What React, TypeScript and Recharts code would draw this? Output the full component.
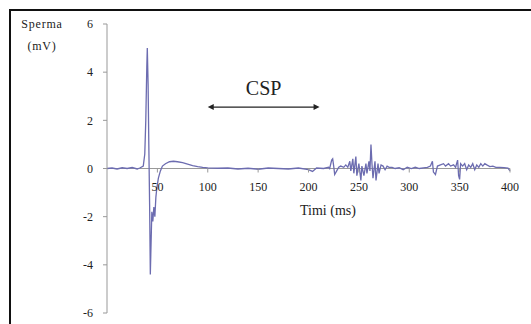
import { LineChart, Line, XAxis, YAxis, ReferenceLine } from "recharts";

// time (ms) and EMG amplitude (mV)
const TIME_MS = [
  0, 5, 10, 15, 20, 25, 30, 33, 36, 37.5, 38.5, 39.5, 40, 40.8, 41.5, 42.3, 43,
  43.8, 44.5, 45.5, 46.5, 47.5, 48.5, 49.5, 51, 53, 55, 58, 62, 66, 70, 75, 80,
  85, 90, 95, 100, 110, 120, 130, 140, 150, 160, 170, 180, 190, 200, 204, 208,
  215, 220, 221, 223, 224, 225, 226, 228, 230, 232, 235, 237, 239, 241, 242,
  244, 245, 247, 248, 250, 252, 253, 255, 257, 258, 260, 261, 262, 263, 264,
  266, 267, 269, 270, 272, 274, 276, 278, 280, 283, 286, 290, 294, 298, 302,
  306, 310, 314, 318, 321, 323, 324, 326, 328, 331, 334, 336, 339, 341, 344,
  346, 348, 349, 350, 351, 353, 355, 357, 359, 361, 363, 365, 367, 369, 371,
  373, 375, 377, 380, 383, 386, 390, 394, 398, 400,
];
const VOLTS = [
  0, 0.02, -0.02, 0.03, 0, 0.04, -0.02, 0.03, 0.1, 0.6, 2.0, 4.2, 5.0, 3.5, 1.0,
  -1.5, -4.4, -3.0, -1.8, -2.2, -1.6, -2.0, -1.2, -0.8, -0.4, -0.1, 0.1, 0.2,
  0.28, 0.3, 0.28, 0.24, 0.18, 0.12, 0.08, 0.05, 0.03, 0.01, 0.02, -0.02, 0.01,
  -0.03, 0.02, 0, -0.02, 0.02, -0.05, -0.12, 0.02, 0, 0.05, 0, 0.35, 0.4, 0.1,
  -0.25, -0.1, 0.05, 0.1, 0.05, 0.15, 0.05, 0.3, -0.1, 0.4, -0.2, 0.5, -0.3,
  0.2, -0.5, 0.1, -0.3, 0.2, -0.2, 0.3, -0.1, 1.0, 0.2, -0.4, 0.3, -0.5, 0.2,
  -0.2, 0.15, 0.1, -0.05, 0.1, 0.05, 0.05, 0, 0.03, -0.05, 0.05, 0, 0.05, 0,
  0.03, 0.05, 0.1, 0.3, -0.15, -0.25, 0.1, 0.15, 0.2, 0.1, 0.2, 0.1, 0.15, 0.05,
  0.35, -0.3, -0.45, 0.2, 0.1, 0.2, -0.05, 0.15, 0.05, 0.2, -0.05, 0.15, 0.05,
  0.2, 0.1, 0.2, 0.15, 0.08, 0.1, 0.05, 0.05, 0.04, 0.02, -0.1,
];

const X_TICKS = [50, 100, 150, 200, 250, 300, 350, 400];
const Y_TICKS = [-6, -4, -2, 0, 2, 4, 6];

// silent period marker
const CSP_FROM = 100;
const CSP_TO = 211;
const CSP_LEVEL = 2.55;

const W = 531;
const H = 324;
const M_TOP = 24;
const M_BOTTOM = 10;
const X_AXIS_H = 1;
const PLOT_H = H - M_TOP - M_BOTTOM - X_AXIS_H;
const ZERO_Y = M_TOP + PLOT_H / 2;
const SERIF = '"Liberation Serif", "Times New Roman", serif';

function XTick(props: any) {
  const { x, payload } = props;
  return (
    <g>
      <line x1={x} x2={x} y1={ZERO_Y} y2={ZERO_Y + 4} stroke="#999" />
      <text
        x={x}
        y={ZERO_Y + 22}
        textAnchor="middle"
        fontFamily={SERIF}
        fontSize={12}
        fill="#222"
      >
        {payload.value}
      </text>
    </g>
  );
}

function Arrow(props: any) {
  const { x1, y1, x2, y2 } = props;
  return (
    <g>
      <line x1={x1 + 3} y1={y1} x2={x2 - 3} y2={y2} stroke="#222" strokeWidth={1.3} />
      <polygon points={`${x1},${y1} ${x1 + 6},${y1 - 3} ${x1 + 6},${y1 + 3}`} fill="#222" />
      <polygon points={`${x2},${y2} ${x2 - 6},${y2 - 3} ${x2 - 6},${y2 + 3}`} fill="#222" />
    </g>
  );
}

export default function App() {
  const data = TIME_MS.map((t, i) => ({ t, v: VOLTS[i] }));

  return (
    <div style={{ position: "absolute", left: 0, top: 0, width: W, height: H, overflow: "hidden", background: "#fff" }}>
      <div
        style={{
          position: "absolute",
          left: 9,
          top: 9,
          width: 600,
          height: 400,
          borderLeft: "2px solid #111",
          borderTop: "2px solid #111",
        }}
      />
      <div
        style={{
          position: "absolute",
          left: 12,
          top: 13,
          width: 60,
          textAlign: "center",
          fontFamily: SERIF,
          fontSize: 12,
          lineHeight: "22px",
          letterSpacing: 0.8,
          color: "#222",
        }}
      >
        Sperma
        <br />
        (mV)
      </div>
      <div
        style={{
          position: "absolute",
          left: 300,
          top: 203,
          fontFamily: SERIF,
          fontSize: 14,
          color: "#222",
        }}
      >
        Timi (ms)
      </div>
      <LineChart
        width={W}
        height={H}
        data={data}
        margin={{ top: M_TOP, right: 21, left: 0, bottom: M_BOTTOM }}
        style={{ position: "absolute", left: 0, top: 0 }}
      >
        <XAxis
          dataKey="t"
          type="number"
          domain={[0, 400]}
          ticks={X_TICKS}
          height={X_AXIS_H}
          axisLine={false}
          tickLine={false}
          tick={(p: any) => <XTick {...p} />}
          interval={0}
        />
        <YAxis
          type="number"
          domain={[-6, 6]}
          ticks={Y_TICKS}
          width={107}
          stroke="#999"
          tickSize={4}
          tickMargin={10}
          tick={{ fontFamily: SERIF, fontSize: 12, fill: "#222" }}
          interval={0}
        />
        <ReferenceLine y={0} stroke="#999" strokeWidth={1.2} />
        <ReferenceLine
          segment={[
            { x: CSP_FROM, y: CSP_LEVEL },
            { x: CSP_TO, y: CSP_LEVEL },
          ]}
          shape={<Arrow />}
          label={{
            value: "CSP",
            position: "top",
            offset: 12,
            fontFamily: SERIF,
            fontSize: 20,
            fill: "#222",
          }}
        />
        <Line
          type="linear"
          dataKey="v"
          stroke="#6c6cb0"
          strokeWidth={1.3}
          dot={false}
          isAnimationActive={false}
        />
      </LineChart>
    </div>
  );
}
